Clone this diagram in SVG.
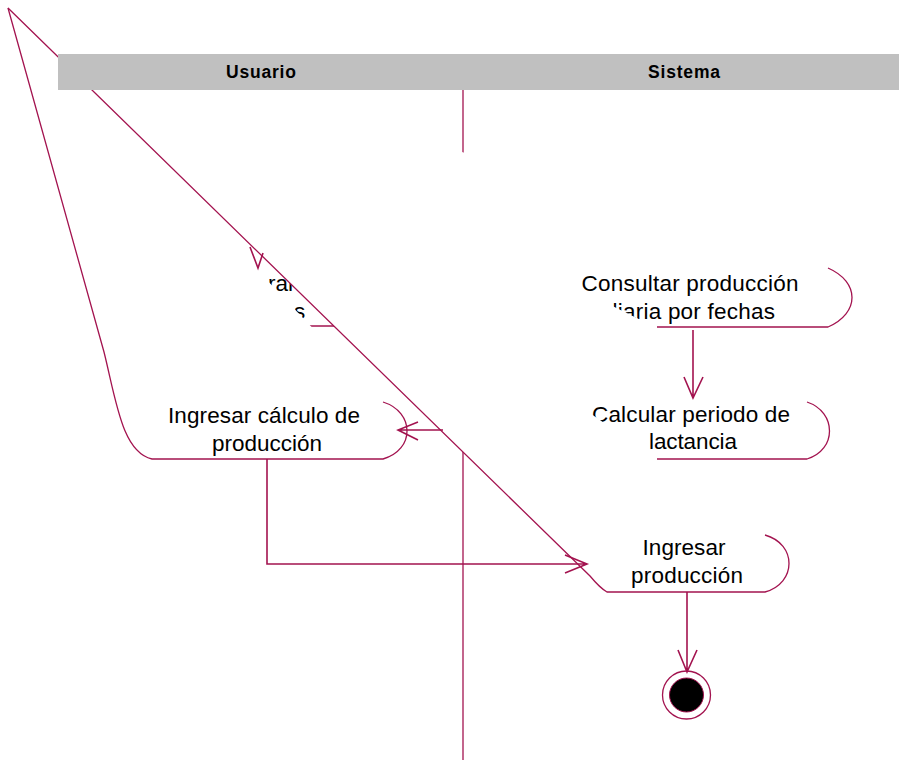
<svg xmlns="http://www.w3.org/2000/svg" width="899" height="760" viewBox="0 0 899 760">
<style>
.ln{fill:none;stroke:#A3134F;stroke-width:1.3}
.cn{fill:none;stroke:#A3134F;stroke-width:1.6}
.fl{fill:#FFFFFF;stroke:none}
.tx{font-family:"Liberation Sans",Arial,sans-serif;font-size:22.5px;fill:#000000}
.hd{font-family:"Liberation Sans",Arial,sans-serif;font-size:17.5px;font-weight:bold;fill:#000000}
</style>
<rect x="0" y="0" width="899" height="760" fill="#FFFFFF"/>
<g id="swimlane-divider">
<line class="ln" x1="463" y1="90" x2="463" y2="153" stroke-width="1"/>
<line class="ln" x1="463" y1="451" x2="463" y2="760" stroke-width="1"/>
</g>
<g id="node-mostrar">
<text class="tx" x="268" y="291">rar</text>
<text class="tx" x="294" y="319">s</text>
<line class="ln" x1="300" y1="326" x2="345" y2="326"/>
</g>
<g id="node-consultar">
<path class="fl" d="M8,8 L657,327 L828,327 C860,313 860,282 828,268 Z"/>
<path class="ln" d="M657,327 L828,327 C860,313 860,282 828,268"/>
<text class="tx" x="690" y="291" text-anchor="middle" textLength="217" lengthAdjust="spacing">Consultar producción</text>
<text class="tx" x="690" y="319" text-anchor="middle" textLength="170" lengthAdjust="spacing">diaria por fechas</text>
</g>
<g id="node-calcular">
<path class="fl" d="M8,8 L657,459 L807,459 C837,450 837,412 807,402 Z"/>
<path class="ln" d="M657,459 L807,459 C837,450 837,412 807,402"/>
<text class="tx" x="691" y="422" text-anchor="middle" textLength="198" lengthAdjust="spacing">Calcular periodo de</text>
<text class="tx" x="693" y="449" text-anchor="middle" textLength="88" lengthAdjust="spacing">lactancia</text>
</g>
<g id="node-ingresar-calculo">
<path class="fl" d="M8,8 L104,352 C116,400 122,452 152,459 L383,459 C415,450 415,412 383,402 Z"/>
<path class="ln" d="M8,8 L104,352 C116,400 122,452 152,459 L383,459 C415,450 415,412 383,402"/>
<text class="tx" x="264" y="423" text-anchor="middle" textLength="192" lengthAdjust="spacing">Ingresar cálculo de</text>
<text class="tx" x="267" y="451" text-anchor="middle" textLength="110" lengthAdjust="spacing">producción</text>
</g>
<g id="node-ingresar-produccion">
<path class="fl" d="M8,8 L590,576 Q600,588 607,592 L765,592 C797,583 797,544 765,535 Z"/>
<path class="ln" d="M8,8 L590,576 Q600,588 607,592 L765,592 C797,583 797,544 765,535"/>
<text class="tx" x="684" y="555" text-anchor="middle" textLength="83" lengthAdjust="spacing">Ingresar</text>
<text class="tx" x="687" y="583" text-anchor="middle" textLength="112" lengthAdjust="spacing">producción</text>
</g>
<g id="node-final">
<circle cx="686.5" cy="695" r="24" fill="#FFFFFF" stroke="#A3134F" stroke-width="1.3"/>
<circle cx="686.5" cy="695" r="17" fill="#000000" stroke="#A3134F" stroke-width="1"/>
</g>
<g id="connectors">
<path class="cn" d="M250,247 L258,268 L263,253"/>
<path class="cn" d="M693,330 L693,398 M684,377 L693,398 L703,377"/>
<path class="cn" d="M443,430 L398,430 M418,422 L398,430 L418,440"/>
<path class="cn" d="M267,459 L267,564 L587,564 M565,555 L587,564 L565,573"/>
<path class="cn" d="M687,592 L687,672 M678,650 L687,672 L697,650"/>
</g>
<g id="lane-header">
<rect x="58" y="54" width="841" height="36" fill="#C0C0C0"/>
<text class="hd" x="261" y="78" text-anchor="middle" textLength="70" lengthAdjust="spacing">Usuario</text>
<text class="hd" x="684" y="78" text-anchor="middle" textLength="72" lengthAdjust="spacing">Sistema</text>
</g>
</svg>
